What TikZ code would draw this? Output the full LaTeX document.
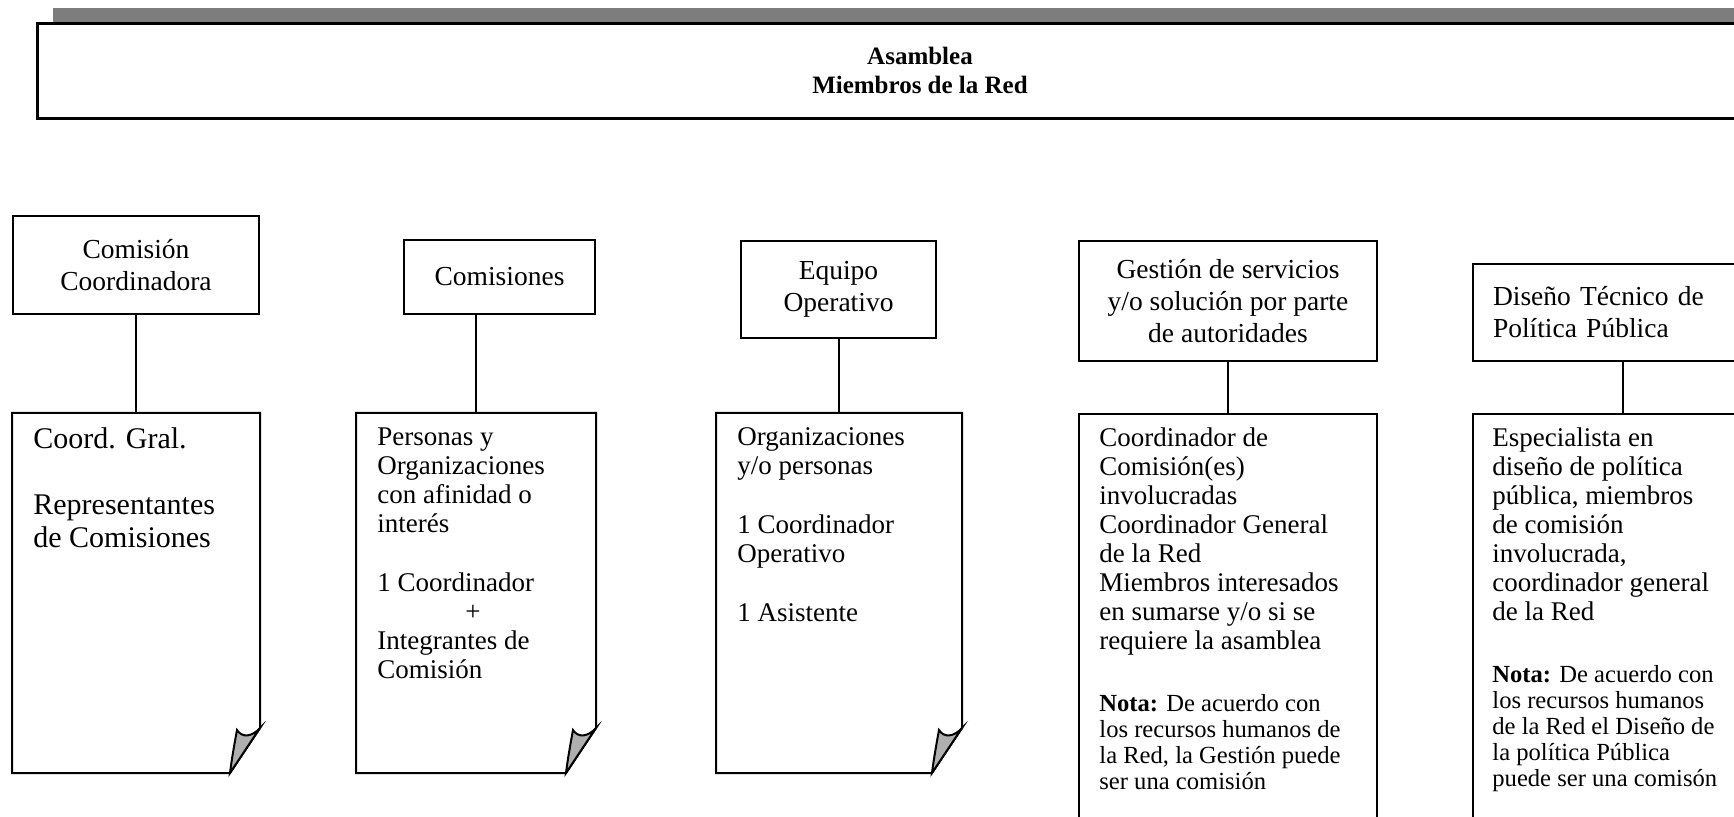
\documentclass[tikz,border=0pt]{standalone}
\usepackage{fontspec}
\setmainfont{Liberation Serif}
\usetikzlibrary{positioning}

\definecolor{fig-shade}{RGB}{125,125,125}
\definecolor{fig-fold}{RGB}{175,175,175}

\begin{document}
\begin{tikzpicture}[x=0.5pt, y=-0.5pt,
    topbox/.style={draw, line width=1pt, align=center, inner sep=0pt, anchor=north west,
      font=\fontsize{13.75}{16}\selectfont},
    lowbox/.style={line width=1pt, inner sep=0pt, anchor=north west},
    lowtext/.style={align=left, inner sep=0pt, anchor=north west,
      font=\fontsize{13.5}{14.5}\selectfont},
    bigtext/.style={lowtext, font=\fontsize{15}{16.5}\selectfont},
    notetext/.style={lowtext, font=\fontsize{12.3}{13}\selectfont},
    link/.style={line width=1pt}]
    \useasboundingbox (0,0) rectangle (1734,817);
    \clip (0,0) rectangle (1734,817);

    % Asamblea
    \fill[fig-shade] (53,8) rectangle (1760,22);
    \node[draw, line width=1.4pt, anchor=north west, inner sep=0pt,
      minimum width=870pt, minimum height=47.5pt] (asam) at (36,22) {};
    \node[align=center, font=\bfseries\fontsize{12.5}{14.5}\selectfont] (asam-t) at (920,70)
      {Asamblea\\Miembros de la Red};

    % upper row
    \node[topbox, minimum width=123pt, minimum height=49pt] (cc) at (12,215) {Comisión\\Coordinadora};
    \node[topbox, minimum width=95.5pt, minimum height=37pt] (cm) at (403,239) {Comisiones};
    \node[topbox, minimum width=97.5pt, minimum height=48.5pt] (eo) at (740,240) {Equipo\\Operativo};
    \node[topbox, minimum width=149pt, minimum height=60pt] (gs) at (1078,240)
      {Gestión de servicios\\y/o solución por parte\\de autoridades};
    \node[topbox, align=left, text width=125pt, inner xsep=10pt, minimum height=48.5pt] (dt) at (1472,263)
      {Diseño Técnico de\\Política Pública};

    % lower row
    \node[lowbox, minimum width=123pt, minimum height=179pt] (lowcc) at (12,413) {};
    \node[lowbox, minimum width=119pt, minimum height=179pt] (lowcm) at (356,413) {};
    \node[lowbox, minimum width=122pt, minimum height=179pt] (loweo) at (716,413) {};
    \node[lowbox, draw, minimum width=149pt, minimum height=215pt] (lowgs) at (1078,413) {};
    \node[lowbox, draw, minimum width=150pt, minimum height=215pt] (lowdt) at (1472,413) {};

    \foreach \n in {lowcc, lowcm, loweo} {
      \draw[line width=1pt] (\n.north west) -- (\n.north east) -- ([yshift=22.5pt]\n.south east)
        -- ([xshift=-15pt]\n.south east) -- (\n.south west) -- cycle;
      \filldraw[line width=1pt, fill=fig-fold] ([xshift=-15pt]\n.south east)
        .. controls ([xshift=-14pt,yshift=8pt]\n.south east) and ([xshift=-12.5pt,yshift=16pt]\n.south east)
        .. ([xshift=-11.5pt,yshift=21.5pt]\n.south east)
        .. controls ([xshift=-9pt,yshift=17.5pt]\n.south east) and ([xshift=-4pt,yshift=18pt]\n.south east)
        .. ([yshift=22.5pt]\n.south east) -- cycle;
    }

    % connectors
    \foreach \a/\b in {cc/lowcc, cm/lowcm, eo/loweo, gs/lowgs, dt/lowdt}
      \draw[link] (\b.north) -- (\b.north |- \a.south);

    % texts
    \node[bigtext] (t-cc) at (33,427) {Coord. Gral.\\[16.5pt]Representantes\\de Comisiones};
    \node[lowtext] (t-cm) at (377,427) {Personas y\\Organizaciones\\con afinidad o\\interés\\[15pt]%
      1 Coordinador\\\hspace*{44pt}+\\Integrantes de\\Comisión};
    \node[lowtext] (t-eo) at (737,427) {Organizaciones\\y/o personas\\[15pt]1 Coordinador\\Operativo\\[15pt]%
      1 Asistente};
    \node[lowtext] (t-gs) at (1099,427) {Coordinador de\\Comisión(es)\\involucradas\\Coordinador General\\%
      de la Red\\Miembros interesados\\en sumarse y/o si se\\requiere la asamblea};
    \node[notetext] (n-gs) at (1099,694) {\textbf{Nota:} De acuerdo con\\los recursos humanos de\\%
      la Red, la Gestión puede\\ser una comisión};
    \node[lowtext] (t-dt) at (1492,427) {Especialista en\\diseño de política\\pública, miembros\\%
      de comisión\\involucrada,\\coordinador general\\de la Red};
    \node[notetext] (n-dt) at (1492,665) {\textbf{Nota:} De acuerdo con\\los recursos humanos\\%
      de la Red el Diseño de\\la política Pública\\puede ser una comisón};
\end{tikzpicture}
\end{document}
